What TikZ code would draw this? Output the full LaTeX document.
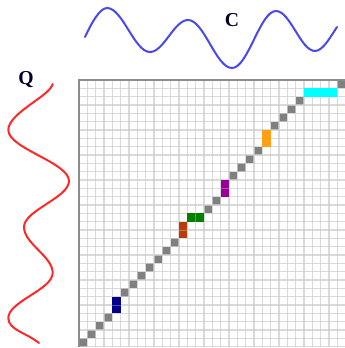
\documentclass[tikz,border=0pt]{standalone}
\usepackage{fontspec}
\setmainfont{Liberation Serif}
\definecolor{wblue}{RGB}{72,72,235}
\definecolor{wred}{RGB}{255,40,40}
\definecolor{cgray}{RGB}{128,128,128}
\definecolor{cnavy}{RGB}{0,0,140}
\definecolor{cbrown}{RGB}{185,60,10}
\definecolor{cgreen}{RGB}{0,128,0}
\definecolor{cpurple}{RGB}{150,0,150}
\definecolor{corange}{RGB}{255,160,20}
\definecolor{ccyan}{RGB}{0,255,255}
\definecolor{gline}{RGB}{205,205,205}
\definecolor{gborder}{RGB}{140,140,140}
\begin{document}
\begin{tikzpicture}[x=0.25mm,y=-0.25mm,
  wave/.style={line width=0.5mm, line cap=round, line join=round},
  lbl/.style={font=\fontsize{14}{14}\selectfont\bfseries, text=black!85!blue, inner sep=0pt, anchor=base},
  gridline/.style={draw=gline, line width=0.3mm},
  borderline/.style={draw=gborder, line width=0.5mm},
  cellbox/.style={fill=#1, draw=none},
  divline/.style={draw=white, opacity=0.3, line width=0.2mm}]
\useasboundingbox (0,0) rectangle (345,348);
% top wave (C)
\draw[wave, wblue] (85,37) .. controls (92,22) and (100,8) .. (107,8)
  .. controls (122.7,8) and (134.3,52) .. (150,52)
  .. controls (163.8,52) and (174.2,20) .. (188,20)
  .. controls (204,20) and (216,68) .. (232,68)
  .. controls (248,68) and (260,11) .. (276,11)
  .. controls (290.2,11) and (300.8,51) .. (315,51)
  .. controls (323,51) and (331,36) .. (337,27);
% left wave (Q)
\draw[wave, wred] (52.7,84) .. controls (50,96) and (8.3,113) .. (8.3,130)
  .. controls (8.3,148.5) and (69,162.5) .. (69,181)
  .. controls (69,197.7) and (24,210.3) .. (24,227)
  .. controls (24,243.7) and (52.7,256.3) .. (52.7,273)
  .. controls (52.7,289.4) and (8.3,301.6) .. (8.3,318)
  .. controls (8.3,330) and (27,333) .. (39,343);
\node[lbl] (C) at (232,26.5) {C};
\node[lbl] (Q) at (26,84.5) {Q};
% grid
\begin{scope}[shift={(79,346.6)}, x={(2.0825mm,0)}, y={(0,2.0825mm)}]
  \foreach \c/\r in {0/0,1/1,2/2,3/3,5/6,6/7,7/8,8/9,9/10,10/11,11/12,15/16,16/17,18/20,19/21,20/22,21/23,23/26,24/27,25/28,26/29,31/31}
    \fill[cellbox=cgray] (\c,\r) rectangle ++(1,1);
  \foreach \i in {1,...,32} {
    \draw[gridline, opacity=0.75] (\i,0) -- (\i,32);
    \draw[gridline, opacity=0.75] (0,\i-1) -- (32,\i-1);
  }
  \fill[cellbox=cnavy] (4,4) rectangle ++(1,2);
  \fill[cellbox=cbrown] (12,13) rectangle ++(1,2);
  \fill[cellbox=cgreen] (13,15) rectangle ++(2,1);
  \fill[cellbox=cpurple] (17,18) rectangle ++(1,2);
  \fill[cellbox=corange] (22,24) rectangle ++(1,2);
  \fill[cellbox=ccyan] (27,30) rectangle ++(4,1);
  \draw[divline] (4,5) -- (5,5);
  \draw[divline] (12,14) -- (13,14);
  \draw[divline] (14,15) -- (14,16);
  \draw[divline] (17,19) -- (18,19);
  \draw[borderline] (0,0) -- (0,32) -- (32,32);
\end{scope}
\end{tikzpicture}
\end{document}
